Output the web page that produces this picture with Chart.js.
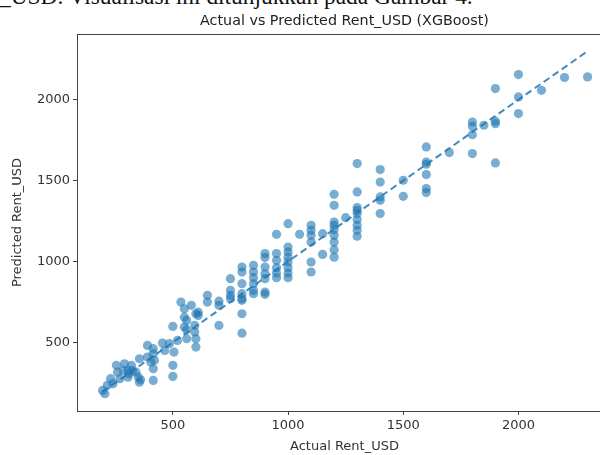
<!DOCTYPE html>
<html lang="id">
<head>
<meta charset="UTF-8">
<title>Actual vs Predicted Rent_USD (XGBoost)</title>
<script src="https://cdn.jsdelivr.net/npm/chart.js"></script>
<style>
  html, body {
    margin: 0;
    padding: 0;
    width: 600px;
    height: 455px;
    overflow: hidden;
    background: #fff;
  }
  .doc-line {
    position: absolute;
    left: -1px;
    top: -14.7px;
    font-family: "Liberation Serif", "DejaVu Serif", serif;
    font-size: 23.4px;
    line-height: 23.4px;
    color: #111;
    white-space: nowrap;
  }
  #chart {
    position: absolute;
    left: 0;
    top: 0;
  }
</style>
</head>
<body>
<div class="doc-line">_USD. Visualisasi ini ditunjukkan pada Gambar 4.</div>
<canvas id="chart" width="620" height="455"></canvas>
<script>
// Actual rent (x) and XGBoost prediction (y)
const actualRent = [
  195, 205, 215, 230, 240, 255, 260, 270, 285, 290,
  305, 305, 310, 320, 325, 340, 350, 355, 355, 360,
  390, 390, 405, 415, 415, 415, 415, 420, 455, 465,
  485, 500, 500, 500, 505, 520, 535, 550, 550, 550,
  560, 560, 560, 580, 595, 595, 600, 600, 600, 610, 610,
  650, 650,
  700, 700, 700,
  750, 750, 750, 750,
  800, 800, 800, 800, 800, 800, 800, 800,
  850, 850, 850, 850, 850, 850,
  900, 900, 900, 900, 900, 900, 900,
  950, 950, 950, 950, 950, 950,
  1000, 1000, 1000, 1000, 1000, 1000, 1000, 1000,
  1050,
  1100, 1100, 1100, 1100, 1100, 1100,
  1150, 1150,
  1200, 1200, 1200, 1200, 1200, 1200, 1200, 1200, 1200,
  1250,
  1300, 1300, 1300, 1300, 1300, 1300, 1300, 1300, 1300,
  1400, 1400, 1400, 1400, 1400,
  1500, 1500,
  1600, 1600, 1600, 1600, 1600, 1600,
  1700,
  1800, 1800, 1800, 1800,
  1850,
  1900, 1900, 1900, 1900,
  2000, 2000, 2000,
  2100,
  2200,
  2300
]
const predictedRent = [
  203, 183, 234, 276, 245, 358, 316, 276, 327, 368,
  285, 327, 306, 358, 327, 316, 285, 399, 254, 269,
  481, 409, 378, 461, 430, 337, 265, 389, 496, 450,
  492, 599, 358, 290, 440, 512, 749, 708, 656, 595,
  523, 636, 578, 729, 605, 564, 677, 523, 471, 687, 667,
  791, 749,
  755, 729, 605,
  894, 822, 791, 770,
  966, 935, 863, 801, 770, 760, 677, 557,
  976, 935, 900, 863, 822, 801,
  1049, 1024, 966, 924, 894, 811, 797,
  1168, 1049, 1007, 962, 929, 900,
  1234, 1089, 1058, 1027, 997, 962, 929, 900,
  1168,
  1224, 1193, 1162, 1120, 997, 935,
  1172, 1044,
  1415, 1347, 1244, 1224, 1197, 1162, 1120, 1073, 1027,
  1271,
  1605, 1430, 1333, 1316, 1296, 1259, 1224, 1193, 1156,
  1568, 1491, 1399, 1378, 1296,
  1502, 1403,
  1708, 1615, 1601, 1537, 1451, 1426,
  1673,
  1862, 1836, 1784, 1667,
  1842,
  2069, 1867, 1852, 1609,
  2155, 2017, 1914,
  2058,
  2137,
  2141
]

const xTicks = [500, 1000, 1500, 2000]
const yTicks = [500, 1000, 1500, 2000]

const chartTitle = 'Actual vs Predicted Rent_USD (XGBoost)'
const xLabel = 'Actual Rent_USD'
const yLabel = 'Predicted Rent_USD'

// perfect-prediction reference line, from min to max of actual
const lineLo = Math.min(...actualRent)
const lineHi = Math.max(...actualRent)

const points = actualRent.map((a, i) => ({ x: a, y: predictedRent[i] }))

const tickFont = { family: 'DejaVu Sans', size: 13 }
const axisColor = '#444'

// draws the title over the plot area and the top/right spines
const framePlugin = {
  id: 'frame',
  afterDraw(chart) {
    const { ctx, chartArea: a } = chart
    ctx.save()
    ctx.strokeStyle = axisColor
    ctx.lineWidth = 1
    ctx.strokeRect(a.left + 0.5, a.top + 0.5, a.right - a.left, a.bottom - a.top)
    ctx.fillStyle = '#222'
    ctx.font = '14.3px "DejaVu Sans"'
    ctx.textAlign = 'center'
    ctx.textBaseline = 'alphabetic'
    ctx.fillText(chartTitle, (a.left + a.right) / 2, 25)
    ctx.restore()
  }
}

new Chart(document.getElementById('chart'), {
  type: 'scatter',
  data: {
    datasets: [
      {
        type: 'line',
        data: [{ x: lineLo, y: lineLo }, { x: lineHi, y: lineHi }],
        borderColor: 'rgba(31,119,180,0.85)',
        borderWidth: 2,
        borderDash: [7, 4],
        pointRadius: 0,
        fill: false,
        order: 0
      },
      {
        data: points,
        backgroundColor: 'rgba(31,119,180,0.6)',
        borderWidth: 0,
        pointRadius: 4.6,
        order: 1
      }
    ]
  },
  plugins: [framePlugin],
  options: {
    responsive: false,
    animation: false,
    layout: { padding: { top: 34, right: 8, left: 0, bottom: 0 } },
    plugins: {
      legend: { display: false },
      tooltip: { enabled: false }
    },
    scales: {
      x: {
        type: 'linear',
        min: 84,
        max: 2406,
        afterFit(scale) { scale.height = 44 },
        afterBuildTicks(scale) { scale.ticks = xTicks.map(v => ({ value: v })) },
        grid: { drawOnChartArea: false, drawTicks: true, tickLength: 4, color: axisColor },
        border: { display: true, color: axisColor, width: 1 },
        ticks: { font: tickFont, color: '#333', padding: 3, maxRotation: 0, callback: v => String(v) },
        title: { display: true, text: xLabel, font: tickFont, color: '#333', padding: { top: 0, bottom: 1 } }
      },
      y: {
        type: 'linear',
        min: 76,
        max: 2406,
        afterFit(scale) { scale.width = 77 },
        afterBuildTicks(scale) { scale.ticks = yTicks.map(v => ({ value: v })) },
        grid: { drawOnChartArea: false, drawTicks: true, tickLength: 4, color: axisColor },
        border: { display: true, color: axisColor, width: 1 },
        ticks: { font: tickFont, color: '#333', padding: 3, callback: v => String(v) },
        title: { display: true, text: yLabel, font: tickFont, color: '#333', padding: { top: 10, bottom: 0 } }
      }
    }
  }
})
</script>
</body>
</html>
